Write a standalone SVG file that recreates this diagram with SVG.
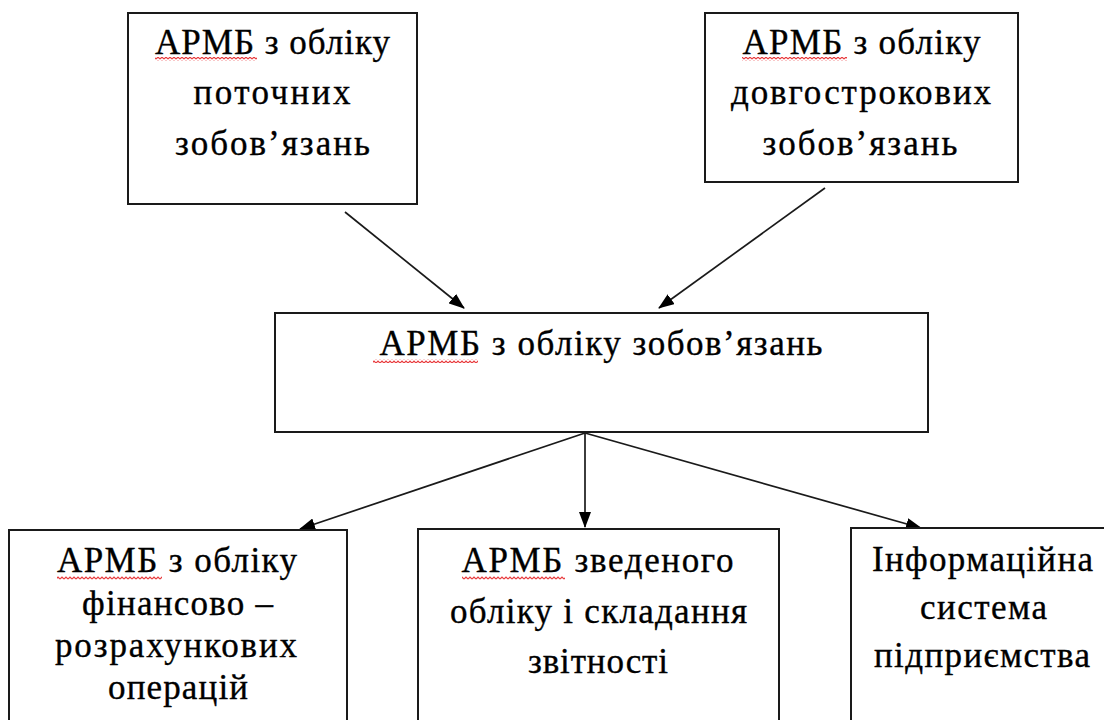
<svg xmlns="http://www.w3.org/2000/svg" width="1104" height="720" viewBox="0 0 1104 720">
  <defs>
    <style>
      .box { fill: #ffffff; stroke: #1a1a1a; stroke-width: 2; }
      .lbl { font-family: "Liberation Serif", "Times New Roman", serif; font-size: 35px; fill: #000000; stroke: #000000; stroke-width: 0.35; text-anchor: middle; }
      .conn { stroke: #1a1a1a; stroke-width: 1.7; fill: none; marker-end: url(#arrow); }
      .wavy { fill: url(#wave); }
    </style>
    <marker id="arrow" markerUnits="userSpaceOnUse" markerWidth="16" markerHeight="12" refX="15" refY="6" orient="auto">
      <path d="M0,0 L16,6 L0,12 Z" fill="#000000"/>
    </marker>
    <pattern id="wave" patternUnits="userSpaceOnUse" width="4" height="4">
      <polyline points="0,3 2,1 4,3" fill="none" stroke="#e8383a" stroke-width="1.2"/>
    </pattern>
  </defs>

  <rect width="1104" height="720" fill="#ffffff"/>

  <g id="connectors">
    <line class="conn" x1="345" y1="212" x2="464" y2="308"/>
    <line class="conn" x1="825" y1="188" x2="659" y2="308"/>
    <line class="conn" x1="585" y1="433" x2="300" y2="529"/>
    <line class="conn" x1="585" y1="433" x2="585" y2="527"/>
    <line class="conn" x1="585" y1="433" x2="921" y2="528"/>
  </g>

  <g id="node-current">
    <rect class="box" x="128" y="13" width="289" height="191"/>
    <text class="lbl" x="272.5" y="54" textLength="235" lengthAdjust="spacing">АРМБ з обліку</text>
    <text class="lbl" x="272" y="104" textLength="157" lengthAdjust="spacing">поточних</text>
    <text class="lbl" x="272.5" y="155" textLength="195" lengthAdjust="spacing">зобов’язань</text>
    <rect class="wavy" x="155" y="57" width="102" height="4"/>
  </g>

  <g id="node-longterm">
    <rect class="box" x="705" y="13" width="313" height="169"/>
    <text class="lbl" x="861.5" y="54" textLength="238" lengthAdjust="spacing">АРМБ з обліку</text>
    <text class="lbl" x="861" y="104" textLength="260" lengthAdjust="spacing">довгострокових</text>
    <text class="lbl" x="860" y="155" textLength="195" lengthAdjust="spacing">зобов’язань</text>
    <rect class="wavy" x="742" y="57" width="105" height="4"/>
  </g>

  <g id="node-liabilities">
    <rect class="box" x="275" y="313" width="653" height="119"/>
    <text class="lbl" x="601" y="355" textLength="443" lengthAdjust="spacing">АРМБ з обліку зобов’язань</text>
    <rect class="wavy" x="373" y="359" width="105" height="4"/>
  </g>

  <g id="node-finance">
    <rect class="box" x="9" y="530" width="338" height="200"/>
    <text class="lbl" x="177" y="572" textLength="240" lengthAdjust="spacing">АРМБ з обліку</text>
    <text class="lbl" x="177.5" y="615" textLength="191" lengthAdjust="spacing">фінансово –</text>
    <text class="lbl" x="176" y="657" textLength="242" lengthAdjust="spacing">розрахункових</text>
    <text class="lbl" x="178" y="699" textLength="140" lengthAdjust="spacing">операцій</text>
    <rect class="wavy" x="57" y="576" width="105" height="4"/>
  </g>

  <g id="node-summary">
    <rect class="box" x="418" y="529" width="361" height="201"/>
    <text class="lbl" x="597.5" y="572" textLength="272" lengthAdjust="spacing">АРМБ зведеного</text>
    <text class="lbl" x="598.5" y="623" textLength="297" lengthAdjust="spacing">обліку і складання</text>
    <text class="lbl" x="598" y="673" textLength="140" lengthAdjust="spacing">звітності</text>
    <rect class="wavy" x="462" y="576" width="103" height="4"/>
  </g>

  <g id="node-infosystem">
    <rect class="box" x="851" y="528" width="270" height="202"/>
    <text class="lbl" x="982.5" y="571" textLength="221" lengthAdjust="spacing">Інформаційна</text>
    <text class="lbl" x="983.5" y="619" textLength="127" lengthAdjust="spacing">система</text>
    <text class="lbl" x="982" y="667" textLength="216" lengthAdjust="spacing">підприємства</text>
  </g>
</svg>
